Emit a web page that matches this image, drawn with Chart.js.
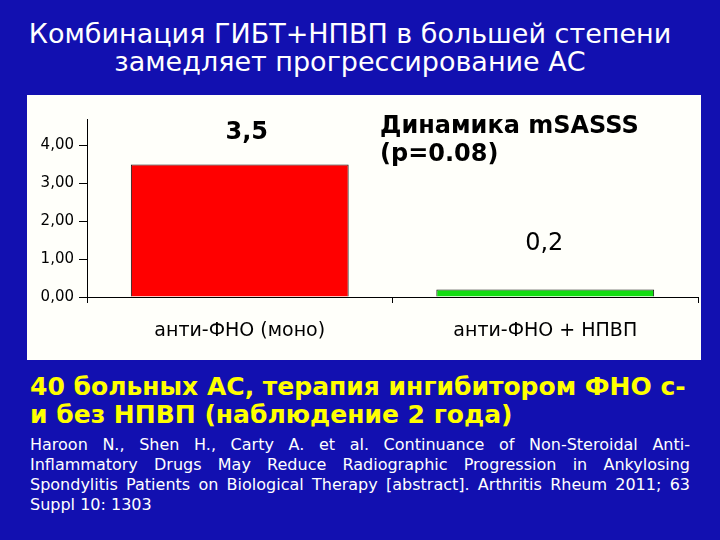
<!DOCTYPE html>
<html>
<head>
<meta charset="utf-8">
<script src="https://cdn.jsdelivr.net/npm/chart.js@4.4.1/dist/chart.umd.min.js"></script>
<style>
  html, body { margin: 0; padding: 0; }
  body {
    width: 720px; height: 540px; overflow: hidden; position: relative;
    background: #1210b0; font-family: "DejaVu Sans", sans-serif;
  }
  .title {
    position: absolute; left: 0; width: 700px; text-align: center;
    color: #fff; font-size: 27px; white-space: nowrap;
  }
  #panel {
    position: absolute; left: 27px; top: 95px; width: 674px; height: 265px;
    background: #fffffa;
  }
  #note {
    position: absolute; left: 353px; top: 16px; font-size: 24px; line-height: 28px;
    font-weight: bold; color: #000; white-space: nowrap;
  }
  .yellow {
    position: absolute; left: 30px; color: #ffff00; font-size: 25px; font-weight: bold;
    white-space: nowrap;
  }
  .ref {
    position: absolute; left: 30px; width: 660px; color: #fff; font-size: 16px;
    line-height: 20px; text-align: justify; text-align-last: justify; white-space: nowrap;
  }
</style>
</head>
<body>
<div class="title" style="top:18px">Комбинация ГИБТ+НПВП в большей степени</div>
<div class="title" style="top:46px">замедляет прогрессирование АС</div>

<div id="panel">
  <canvas id="barChart" width="674" height="265"></canvas>
  <div id="note">Динамика mSASSS<br>(p=0.08)</div>
</div>

<div class="yellow" style="top:372px">40 больных АС, терапия ингибитором ФНО с-</div>
<div class="yellow" style="top:400px">и без НПВП (наблюдение 2 года)</div>
<div class="ref" style="top:435px">Haroon N., Shen H., Carty A. et al. Continuance of Non-Steroidal Anti-</div>
<div class="ref" style="top:455px">Inflammatory Drugs May Reduce Radiographic Progression in Ankylosing</div>
<div class="ref" style="top:475px">Spondylitis Patients on Biological Therapy [abstract]. Arthritis Rheum 2011; 63</div>
<div class="ref" style="top:495px; text-align-last:left">Suppl 10: 1303</div>

<script>
const categories = ["анти-ФНО (моно)", "анти-ФНО + НПВП"];
const msasssChange = [3.5, 0.2];
const yTicks = [0, 1, 2, 3, 4];

// value labels sit above the bars, a bit shifted like on the slide
const valueLabelStyle = [
  { font: "bold 24px 'DejaVu Sans'", dx: 7, dy: -32 },
  { font: "24px 'DejaVu Sans'", dx: -1, dy: -46 }
];

const valueLabels = {
  id: "valueLabels",
  afterDatasetsDraw(chart) {
    const ctx = chart.ctx;
    const meta = chart.getDatasetMeta(0);
    ctx.save();
    ctx.fillStyle = "#000";
    ctx.textAlign = "center";
    ctx.textBaseline = "middle";
    meta.data.forEach((bar, i) => {
      const st = valueLabelStyle[i];
      ctx.font = st.font;
      ctx.fillText(String(msasssChange[i]).replace(".", ","), bar.x + st.dx, bar.y + st.dy);
    });
    ctx.restore();
  }
};

new Chart(document.getElementById("barChart"), {
  type: "bar",
  data: {
    labels: categories,
    datasets: [{
      data: msasssChange,
      backgroundColor: ["#ff0000", "#11dd11"],
      borderColor: "#101010",
      borderWidth: 1,
      categoryPercentage: 1,
      barPercentage: 0.713
    }]
  },
  options: {
    responsive: false,
    animation: false,
    layout: { padding: { left: 0, right: 3, top: 24, bottom: 0 } },
    plugins: { legend: { display: false }, tooltip: { enabled: false } },
    scales: {
      y: {
        min: 0,
        max: 4.7,
        afterBuildTicks: (scale) => {
          scale.ticks = yTicks.map(v => ({ value: v }));
        },
        afterFit: (scale) => { scale.width = 60; },
        ticks: {
          color: "#000",
          font: { family: "DejaVu Sans", size: 15 },
          padding: 5,
          callback: (v) => v.toFixed(2).replace(".", ",")
        },
        grid: { drawOnChartArea: false, tickLength: 8, color: "#000" },
        border: { color: "#000", width: 1 }
      },
      x: {
        afterFit: (scale) => { scale.height = 63; },
        ticks: {
          color: "#000",
          font: { family: "DejaVu Sans", size: 19 },
          padding: 17
        },
        grid: { offset: true, drawOnChartArea: false, tickLength: 6, color: "#000" },
        border: { color: "#000", width: 1 }
      }
    }
  },
  plugins: [valueLabels]
});
</script>
</body>
</html>
